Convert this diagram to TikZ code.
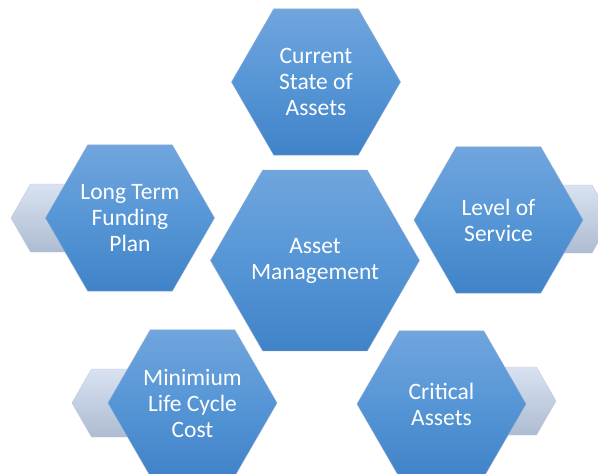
\documentclass[tikz,border=0pt]{standalone}
\usepackage{fontspec}
\setmainfont{Carlito}
\usetikzlibrary{shapes.geometric}

\definecolor{hexTop}{RGB}{112,165,221}
\definecolor{hexMid}{RGB}{86,150,214}
\definecolor{hexBottom}{RGB}{64,131,200}
\definecolor{hexEdge}{RGB}{140,170,210}
\definecolor{tabTop}{RGB}{216,226,241}
\definecolor{tabBottom}{RGB}{174,188,210}
\definecolor{tabEdge}{RGB}{190,200,218}

\begin{document}
\begin{tikzpicture}
[x=1pt,y=-1pt,
  hexDecorate/.style={regular polygon,regular polygon sides=6,inner sep=0pt,
    minimum size=169pt,draw=hexEdge,line width=0.4pt,
    top color=hexTop,bottom color=hexBottom,middle color=hexMid,
    text=white,align=center,font=\fontsize{23.5}{26}\selectfont},
  tabDecorate/.style={draw=tabEdge,line width=0.4pt,
    top color=tabTop,bottom color=tabBottom}]
\clip (0,0) rectangle (598,474);
%% tabs behind the outer hexagons
\foreach \ax/\bx/\cx/\y in {
  130/30.5/11/218, 498/592/611.5/219, 192/91.5/72/403, 441/536.5/556/401}
{
  \draw[tabDecorate] (\ax,\y-34) -- (\bx,\y-34) -- (\cx,\y)
    -- (\bx,\y+34) -- (\ax,\y+34) -- cycle;
}
%% outer hexagons
\foreach \nodename/\x/\y/\txt in {
  cur/316/82/{Current\\State of\\Assets},
  fund/130/218/{Long Term\\Funding\\Plan},
  los/498.5/220/{Level of\\Service},
  mlc/192.5/403/{Minimium\\Life Cycle\\Cost},
  crit/441.5/404/{Critical\\Assets}}
{
  \node (\nodename) at (\x,\y) [hexDecorate] {\txt};
}
%% centre hexagon
\node (am) at (315,260.5) [hexDecorate,minimum size=208pt] {Asset\\Management};
\end{tikzpicture}
\end{document}
